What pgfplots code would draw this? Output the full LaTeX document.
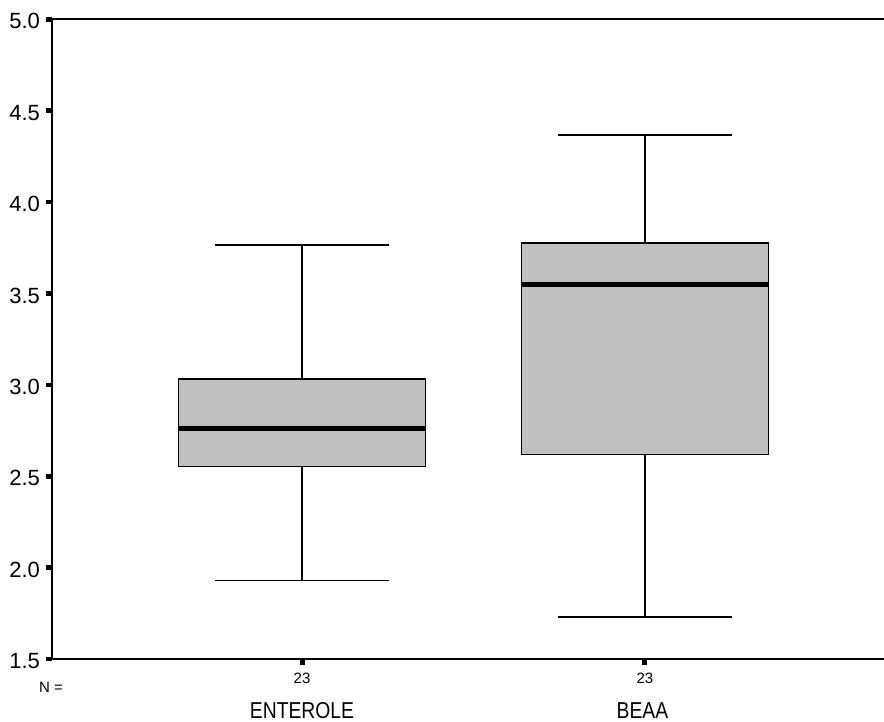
\documentclass[border=0pt]{standalone}
\usepackage{fontspec}
\setmainfont{Liberation Sans}
\usepackage{pgfplots}
\pgfplotsset{compat=1.18}
\usepgfplotslibrary{statistics}
\definecolor{boxgray}{HTML}{C0C0C0}
\begin{document}
\begin{tikzpicture}
\useasboundingbox (-52pt,-63pt) rectangle (832pt,659pt);
\begin{axis}[
  at={(0,0)}, anchor=south west,
  scale only axis,
  width=832pt, height=639.7pt,
  xmin=0.271, xmax=2.697,
  ymin=1.5, ymax=5.0,
  axis x line*=bottom, axis y line*=left,
  x axis line style={line width=2.2pt, -},
  y axis line style={line width=2.6pt, -},
  xtick={1,2}, xticklabels={},
  ytick={1.5,2.0,...,5.0},
  yticklabel={\pgfmathprintnumber[fixed,fixed zerofill,precision=1]{\tick}},
  /pgf/number format/assume math mode=true,
  tick align=outside,
  major tick length=6.5pt,
  xtick style={black, line width=5pt},
  ytick style={black, line width=4.6pt},
  yticklabel style={font=\fontsize{22}{26}\selectfont, anchor=east, xshift=-2pt, yshift=-2pt},
  clip=false,
  boxplot/draw direction=y,
]
\addplot[
  boxplot prepared={
    median=2.759, upper quartile=3.031, lower quartile=2.553,
    upper whisker=3.765, lower whisker=1.929,
    draw position=1, box extend=0.72, whisker extend=0.505},
  draw=black, line width=1.3pt,
  boxplot/every box/.style={fill=boxgray, draw=black, line width=1.4pt},
  boxplot/every median/.style={line width=5pt, black},
] coordinates {};
\addplot[
  boxplot prepared={
    median=3.547, upper quartile=3.775, lower quartile=2.620,
    upper whisker=4.367, lower whisker=1.730,
    draw position=2, box extend=0.72, whisker extend=0.505},
  draw=black, line width=1.3pt,
  boxplot/every box/.style={fill=boxgray, draw=black, line width=1.4pt},
  boxplot/every median/.style={line width=5pt, black},
] coordinates {};
\draw[line width=1.6pt, black] (rel axis cs:0,1) -- (rel axis cs:1,1);
\node[anchor=base, font=\fontsize{15}{18}\selectfont, yshift=-24.3pt] at (axis cs:1,1.5) {23};
\node[anchor=base, font=\fontsize{15}{18}\selectfont, yshift=-24.3pt] at (axis cs:2,1.5) {23};
\node[anchor=base, font=\fontsize{15}{18}\selectfont, yshift=-34pt, xshift=-1pt] at (rel axis cs:0,0) {N =};
\node[anchor=base, yshift=-59.3pt] at (axis cs:1,1.5) {\fontsize{23}{27}\selectfont\scalebox{0.84}[1]{ENTEROLE}};
\node[anchor=base, yshift=-59.3pt, xshift=-2.5pt] at (axis cs:2,1.5) {\fontsize{23}{27}\selectfont\scalebox{0.84}[1]{BEAA}};
\end{axis}
\end{tikzpicture}
\end{document}
